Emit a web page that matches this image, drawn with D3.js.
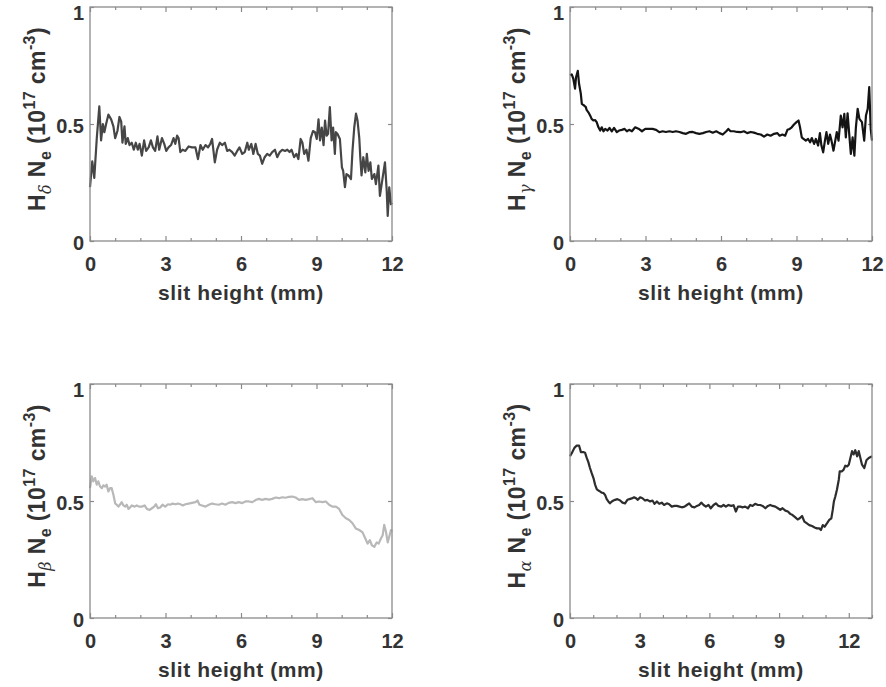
<!DOCTYPE html>
<html>
<head>
<meta charset="utf-8">
<script src="https://cdn.jsdelivr.net/npm/d3@7"></script>
<style>
  body { margin: 0; background: #fff; }
  text { font-family: "Liberation Sans", Arial, sans-serif; font-weight: bold; fill: #333; }
</style>
</head>
<body>
<svg id="fig" width="886" height="687"></svg>
<script>
// ── Data (slit height in mm, density in 1e17 cm^-3) ─────────────────────────
const hdX = [0,0.09,0.17,0.27,0.37,0.44,0.51,0.57,0.64,0.73,0.84,0.93,1.0,1.09,1.17,1.24,1.29,1.37,1.42,1.5,
  1.57,1.66,1.74,1.82,1.9,1.97,2.06,2.15,2.23,2.33,2.42,2.5,2.59,2.68,2.75,2.86,2.95,3.03,3.12,3.22,
  3.32,3.39,3.46,3.52,3.59,3.68,3.79,3.92,4.05,4.19,4.29,4.39,4.48,4.59,4.69,4.78,4.85,4.96,5.05,5.16,
  5.25,5.36,5.45,5.54,5.65,5.75,5.85,5.94,6.05,6.15,6.25,6.31,6.41,6.49,6.58,6.67,6.75,6.84,6.94,7.04,
  7.14,7.24,7.35,7.44,7.54,7.64,7.75,7.84,7.93,8.01,8.11,8.2,8.28,8.37,8.44,8.51,8.6,8.68,8.77,8.86,
  8.94,9.01,9.08,9.14,9.21,9.28,9.34,9.4,9.46,9.53,9.6,9.66,9.73,9.77,9.83,9.93,10.01,10.06,10.13,10.19,
  10.27,10.37,10.43,10.5,10.57,10.63,10.7,10.74,10.79,10.86,10.94,11.0,11.07,11.14,11.2,11.3,11.36,11.46,11.52,11.63,
  11.72,11.79,11.83,11.89,11.96,12.0];
const hdY = [0.23,0.34,0.27,0.44,0.575,0.43,0.50,0.465,0.50,0.54,0.52,0.49,0.44,0.47,0.53,0.51,0.42,0.49,0.415,0.44,
  0.41,0.42,0.39,0.42,0.39,0.415,0.365,0.43,0.385,0.40,0.43,0.40,0.385,0.447,0.39,0.44,0.415,0.385,0.40,0.41,
  0.44,0.415,0.45,0.44,0.38,0.39,0.385,0.404,0.40,0.40,0.35,0.41,0.39,0.41,0.40,0.415,0.436,0.336,0.39,0.42,
  0.41,0.42,0.385,0.39,0.38,0.365,0.385,0.40,0.372,0.38,0.42,0.39,0.415,0.372,0.415,0.372,0.365,0.33,0.358,0.372,
  0.365,0.38,0.39,0.358,0.38,0.39,0.385,0.39,0.38,0.39,0.358,0.372,0.35,0.436,0.42,0.372,0.39,0.343,0.44,0.47,
  0.465,0.436,0.52,0.43,0.485,0.41,0.515,0.45,0.458,0.572,0.43,0.485,0.372,0.465,0.458,0.436,0.315,0.30,0.23,0.286,
  0.28,0.265,0.385,0.485,0.544,0.515,0.44,0.358,0.28,0.358,0.293,0.372,0.30,0.336,0.265,0.286,0.243,0.322,0.193,0.272,
  0.336,0.215,0.107,0.229,0.157,0.164];

const hgX = [0,0.07,0.13,0.2,0.24,0.31,0.36,0.43,0.47,0.56,0.63,0.66,0.73,0.8,0.86,0.93,1.0,1.06,1.13,1.2,
  1.26,1.33,1.4,1.49,1.57,1.66,1.75,1.86,1.95,2.06,2.17,2.26,2.35,2.46,2.59,2.72,2.86,2.99,3.12,3.28,
  3.42,3.55,3.68,3.81,3.95,4.08,4.21,4.35,4.48,4.61,4.74,4.88,5.01,5.14,5.28,5.41,5.54,5.67,5.81,5.94,
  6.07,6.21,6.29,6.38,6.51,6.64,6.78,6.91,7.04,7.18,7.31,7.44,7.58,7.71,7.84,7.97,8.11,8.24,8.33,8.44,
  8.55,8.64,8.73,8.81,8.9,9.0,9.08,9.14,9.21,9.28,9.37,9.46,9.54,9.61,9.7,9.77,9.86,9.93,9.99,10.06,
  10.13,10.19,10.26,10.33,10.39,10.47,10.54,10.6,10.67,10.76,10.83,10.9,10.96,11.03,11.1,11.16,11.23,11.3,11.36,11.43,
  11.5,11.6,11.69,11.76,11.83,11.89,11.95,12.0];
const hgY = [0.708,0.712,0.694,0.651,0.70,0.727,0.672,0.629,0.586,0.579,0.572,0.56,0.55,0.536,0.522,0.515,0.517,0.508,0.486,0.472,
  0.486,0.469,0.479,0.472,0.483,0.469,0.483,0.465,0.472,0.475,0.479,0.469,0.475,0.469,0.486,0.48,0.469,0.479,0.479,0.479,
  0.475,0.465,0.469,0.466,0.469,0.466,0.469,0.466,0.461,0.458,0.465,0.466,0.461,0.458,0.461,0.466,0.469,0.463,0.469,0.461,
  0.455,0.469,0.479,0.469,0.469,0.466,0.465,0.469,0.461,0.466,0.463,0.458,0.455,0.446,0.455,0.45,0.458,0.461,0.45,0.455,
  0.45,0.475,0.479,0.486,0.498,0.508,0.515,0.486,0.443,0.436,0.429,0.436,0.422,0.44,0.415,0.436,0.408,0.461,0.408,0.379,
  0.429,0.465,0.415,0.455,0.429,0.386,0.429,0.465,0.429,0.536,0.486,0.543,0.443,0.546,0.45,0.372,0.443,0.365,0.486,0.565,
  0.522,0.508,0.429,0.536,0.565,0.658,0.479,0.429];

const hbX = [0,0.07,0.13,0.2,0.27,0.33,0.4,0.47,0.53,0.6,0.66,0.73,0.8,0.86,0.93,1.0,1.06,1.13,1.2,1.26,
  1.33,1.4,1.46,1.53,1.59,1.66,1.77,1.86,1.95,2.06,2.17,2.26,2.37,2.46,2.55,2.62,2.7,2.79,2.88,2.99,
  3.1,3.19,3.28,3.39,3.5,3.59,3.69,3.79,3.92,4.05,4.19,4.27,4.35,4.45,4.59,4.72,4.85,4.98,5.12,5.25,
  5.38,5.51,5.65,5.78,5.91,6.05,6.18,6.31,6.45,6.58,6.71,6.84,6.98,7.11,7.24,7.38,7.51,7.64,7.77,7.91,
  8.04,8.17,8.31,8.44,8.57,8.7,8.84,8.97,9.1,9.24,9.37,9.5,9.63,9.77,9.9,10.03,10.17,10.3,10.43,10.56,
  10.7,10.83,10.94,11.03,11.12,11.2,11.3,11.39,11.47,11.56,11.63,11.69,11.76,11.83,11.89,11.96,12.0];
const hbY = [0.555,0.605,0.584,0.598,0.57,0.584,0.562,0.555,0.567,0.562,0.57,0.541,0.555,0.555,0.527,0.49,0.484,0.476,0.486,0.495,
  0.481,0.476,0.484,0.466,0.472,0.481,0.476,0.481,0.476,0.476,0.481,0.466,0.462,0.469,0.476,0.486,0.469,0.472,0.484,0.476,
  0.486,0.484,0.489,0.486,0.489,0.486,0.481,0.486,0.489,0.492,0.495,0.502,0.484,0.481,0.476,0.484,0.489,0.486,0.484,0.489,
  0.484,0.492,0.495,0.491,0.495,0.491,0.498,0.498,0.495,0.504,0.509,0.505,0.509,0.506,0.509,0.515,0.512,0.516,0.514,0.518,
  0.519,0.515,0.505,0.508,0.505,0.508,0.512,0.495,0.498,0.495,0.498,0.484,0.476,0.476,0.466,0.44,0.426,0.419,0.405,0.383,
  0.376,0.366,0.34,0.318,0.333,0.311,0.304,0.323,0.318,0.34,0.354,0.398,0.369,0.323,0.347,0.376,0.369];

const haX = [0,0.1,0.19,0.29,0.39,0.47,0.57,0.65,0.72,0.79,0.86,0.93,1.01,1.08,1.15,1.22,1.29,1.36,1.44,1.51,
  1.58,1.65,1.72,1.8,1.87,1.94,2.04,2.16,2.26,2.37,2.47,2.56,2.66,2.76,2.84,2.92,3.02,3.12,3.23,3.33,
  3.45,3.55,3.64,3.74,3.84,3.95,4.05,4.17,4.27,4.38,4.5,4.6,4.71,4.81,4.93,5.03,5.13,5.24,5.36,5.46,
  5.56,5.65,5.75,5.85,5.96,6.06,6.18,6.28,6.39,6.51,6.61,6.71,6.82,6.94,7.04,7.14,7.23,7.33,7.44,7.54,
  7.66,7.76,7.86,7.97,8.09,8.19,8.29,8.41,8.52,8.62,8.72,8.84,8.95,9.05,9.15,9.27,9.38,9.48,9.58,9.7,
  9.8,9.89,9.99,10.09,10.2,10.3,10.42,10.53,10.63,10.73,10.8,10.88,10.96,11.06,11.16,11.25,11.31,11.36,11.42,11.49,
  11.57,11.61,11.71,11.78,11.85,11.93,12.0,12.07,12.14,12.21,12.28,12.36,12.43,12.5,12.57,12.67,12.76,12.86,13.0];
const haY = [0.691,0.709,0.727,0.737,0.737,0.709,0.709,0.706,0.684,0.666,0.641,0.62,0.598,0.57,0.551,0.545,0.541,0.536,0.534,0.526,
  0.508,0.498,0.49,0.498,0.502,0.505,0.508,0.502,0.493,0.49,0.505,0.508,0.511,0.516,0.512,0.505,0.516,0.512,0.502,0.505,
  0.498,0.502,0.488,0.498,0.488,0.493,0.483,0.49,0.486,0.476,0.479,0.479,0.476,0.473,0.476,0.483,0.49,0.476,0.473,0.479,
  0.483,0.493,0.483,0.476,0.483,0.469,0.483,0.49,0.479,0.476,0.483,0.476,0.483,0.479,0.482,0.455,0.476,0.476,0.473,0.476,
  0.469,0.483,0.479,0.488,0.483,0.483,0.479,0.469,0.479,0.483,0.479,0.476,0.469,0.462,0.469,0.459,0.455,0.445,0.44,0.43,
  0.421,0.426,0.436,0.412,0.404,0.397,0.393,0.387,0.383,0.383,0.376,0.397,0.39,0.404,0.419,0.426,0.462,0.498,0.519,0.548,
  0.591,0.627,0.627,0.634,0.651,0.648,0.655,0.684,0.713,0.699,0.717,0.691,0.713,0.684,0.655,0.641,0.674,0.684,0.691];

const xTicks = [0, 3, 6, 9, 12];
const yTicks = [0, 0.5, 1];

// ── Layout ──────────────────────────────────────────────────────────────────
const W = 302, H = 234;
const panels = [
  { sub: 'δ', xs: hdX, ys: hdY, xMax: 12, color: '#464646', left: 90,  top: 7 },
  { sub: 'γ', xs: hgX, ys: hgY, xMax: 12, color: '#141414', left: 570, top: 7 },
  { sub: 'β', xs: hbX, ys: hbY, xMax: 12, color: '#b8b8b8', left: 90,  top: 384 },
  { sub: 'α', xs: haX, ys: haY, xMax: 13, color: '#2d2d2d', left: 570, top: 384 }
];
const axisCol = '#8a8a8a';

const svg = d3.select('#fig');

panels.forEach(p => {
  const g = svg.append('g').attr('transform', `translate(${p.left},${p.top})`);
  const x = d3.scaleLinear().domain([0, p.xMax]).range([0, W]);
  const y = d3.scaleLinear().domain([0, 1]).range([H, 0]);
  const minor = d3.range(0, p.xMax + 1).filter(v => v % 3 !== 0);

  // ── Ticks (all pointing inward) ──
  const styleAxis = sel => {
    sel.select('.domain').remove();
    sel.selectAll('line').attr('stroke', axisCol).attr('stroke-width', 1.2);
    sel.selectAll('text').attr('font-size', 20).attr('fill', '#333')
      .style('font-family', '"Liberation Sans", Arial, sans-serif').style('font-weight', 'bold');
  };

  g.append('g').attr('transform', `translate(0,${H})`)
    .call(d3.axisBottom(x).tickValues(xTicks).tickSizeInner(-5).tickSizeOuter(0).tickPadding(16).tickFormat(d3.format('d')))
    .call(styleAxis);
  g.append('g').attr('transform', `translate(0,${H})`)
    .call(d3.axisBottom(x).tickValues(minor).tickSizeInner(-3).tickSizeOuter(0).tickFormat(''))
    .call(styleAxis);
  g.append('g')
    .call(d3.axisTop(x).tickValues(xTicks).tickSizeInner(-5).tickSizeOuter(0).tickFormat(''))
    .call(styleAxis);
  g.append('g')
    .call(d3.axisTop(x).tickValues(minor).tickSizeInner(-3).tickSizeOuter(0).tickFormat(''))
    .call(styleAxis);
  g.append('g')
    .call(d3.axisLeft(y).tickValues(yTicks).tickSizeInner(-4).tickSizeOuter(0).tickPadding(6).tickFormat(d => String(d)))
    .call(styleAxis)
    .selectAll('text').attr('dy', d => d === 1 ? '0.62em' : '0.42em');
  g.append('g').attr('transform', `translate(${W},0)`)
    .call(d3.axisRight(y).tickValues(yTicks).tickSizeInner(-4).tickSizeOuter(0).tickFormat(''))
    .call(styleAxis);

  // ── Data line ──
  const pts = p.xs.map((v, i) => [v, p.ys[i]]);
  g.append('path')
    .datum(pts)
    .attr('fill', 'none')
    .attr('stroke', p.color)
    .attr('stroke-width', 2.2)
    .attr('stroke-linejoin', 'round')
    .attr('d', d3.line().x(d => x(d[0])).y(d => y(d[1])));

  // ── Frame ──
  g.append('rect')
    .attr('width', W).attr('height', H)
    .attr('fill', 'none')
    .attr('stroke', axisCol)
    .attr('stroke-width', 1.3);

  // ── Axis labels ──
  g.append('text')
    .attr('x', W / 2).attr('y', H + 59)
    .attr('text-anchor', 'middle')
    .attr('font-size', 21)
    .style('letter-spacing', '0.6px')
    .text('slit height (mm)');

  const lab = g.append('text')
    .attr('transform', `translate(-45,${H / 2 - 5}) rotate(-90)`)
    .attr('text-anchor', 'middle')
    .attr('font-size', 23)
    .style('letter-spacing', '0.4px');
  lab.append('tspan').text('H');
  lab.append('tspan').text(p.sub).attr('dy', 6).attr('font-size', 16)
    .style('font-style', 'italic').style('font-weight', 'normal')
    .style('font-family', '"DejaVu Serif", serif');
  lab.append('tspan').text(' N').attr('dy', -6);
  lab.append('tspan').text('e').attr('dy', 6).attr('font-size', 16);
  lab.append('tspan').text(' (10').attr('dy', -6);
  lab.append('tspan').text('17').attr('dy', -10).attr('font-size', 16);
  lab.append('tspan').text(' cm').attr('dy', 10);
  lab.append('tspan').text('-3').attr('dy', -10).attr('font-size', 16);
  lab.append('tspan').text(')').attr('dy', 10);
});
</script>
</body>
</html>
